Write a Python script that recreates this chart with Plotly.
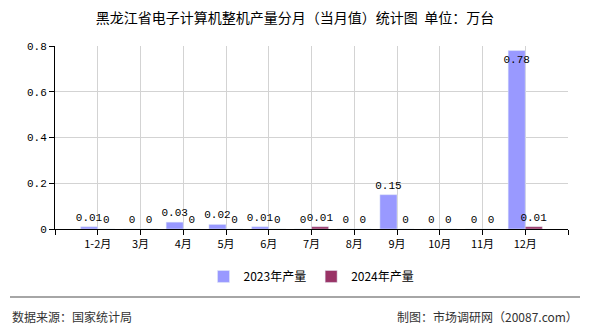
import plotly.graph_objects as go

categories = ["1-2月", "3月", "4月", "5月", "6月", "7月", "8月", "9月", "10月", "11月", "12月"]
values_2023 = [0.01, 0, 0.03, 0.02, 0.01, 0, 0, 0.15, 0, 0, 0.78]
values_2024 = [0, 0, 0, 0, 0, 0.01, 0, 0, 0, 0, 0.01]
y_ticks = [0, 0.2, 0.4, 0.6, 0.8]

xs = list(range(len(categories)))
mono = "Liberation Mono, DejaVu Sans Mono, monospace"
cjk = "Noto Sans CJK SC, sans-serif"

def fmt(v):
    return ("%g" % v)

fig = go.Figure()
fig.add_trace(go.Bar(
    x=xs, y=values_2023, name="2023年产量", marker_color="#9999FF",
    width=0.4, offset=-0.4,
    text=[fmt(v) for v in values_2023],
    textposition=["inside" if v > 0.7 else "outside" for v in values_2023],
    insidetextanchor="end", textangle=0, constraintext="none",
    textfont=dict(family=mono, size=11, color="black"),
    cliponaxis=False,
))
fig.add_trace(go.Bar(
    x=xs, y=values_2024, name="2024年产量", marker_color="#993366",
    width=0.4, offset=0,
    text=[fmt(v) for v in values_2024],
    textposition="outside", textangle=0, constraintext="none",
    textfont=dict(family=mono, size=11, color="black"),
    cliponaxis=False,
))

tickvals = [-1] + xs + [len(xs)]
ticktext = [""] + categories + [""]

fig.update_layout(
    width=590, height=330,
    margin=dict(l=55, r=22, t=46, b=101),
    paper_bgcolor="white", plot_bgcolor="white",
    barmode="overlay",
    showlegend=True,
    legend=dict(orientation="h", x=0.5, xanchor="center", y=-0.18, yanchor="top",
                font=dict(family=cjk, size=12, color="black"),
                itemwidth=30, tracegroupgap=0),
    title=dict(text="黑龙江省电子计算机整机产量分月（当月值）统计图  单位：万台",
               x=0.5, xanchor="center", y=0.945, yanchor="middle",
               font=dict(family=cjk, size=14, color="black")),
    uniformtext=dict(mode=False),
)
fig.update_xaxes(
    range=[-1, len(xs)], tickvals=tickvals, ticktext=ticktext,
    showgrid=True, gridcolor="#d3d3d3", gridwidth=1,
    showline=True, linecolor="black", linewidth=1,
    ticks="outside", ticklen=5, tickcolor="black",
    tickfont=dict(family=cjk, size=11, color="black"),
    zeroline=False,
)
fig.update_yaxes(
    range=[0, 0.8], tickvals=y_ticks, ticktext=[fmt(v) for v in y_ticks],
    showgrid=True, gridcolor="#d3d3d3", gridwidth=1,
    showline=True, linecolor="black", linewidth=1,
    ticks="outside", ticklen=5, tickcolor="black",
    tickfont=dict(family=mono, size=11, color="black"),
    zeroline=False,
)
# footer separator and texts
fig.add_shape(type="line", xref="paper", yref="paper",
              x0=-45/513, x1=(580-55)/513, y0=-(297-229)/183, y1=-(297-229)/183,
              line=dict(color="#888888", width=1.5))
fig.add_annotation(text="数据来源：国家统计局", xref="paper", yref="paper",
                   x=-(55-10)/513, y=-(316-229)/183, xanchor="left", yanchor="middle",
                   showarrow=False, font=dict(family=cjk, size=12, color="#333333"))
fig.add_annotation(text="制图：市场调研网（20087.com）", xref="paper", yref="paper",
                   x=(580-55)/513, y=-(316-229)/183, xanchor="right", yanchor="middle",
                   showarrow=False, font=dict(family=cjk, size=12, color="#333333"))

fig.write_html("out.html")
